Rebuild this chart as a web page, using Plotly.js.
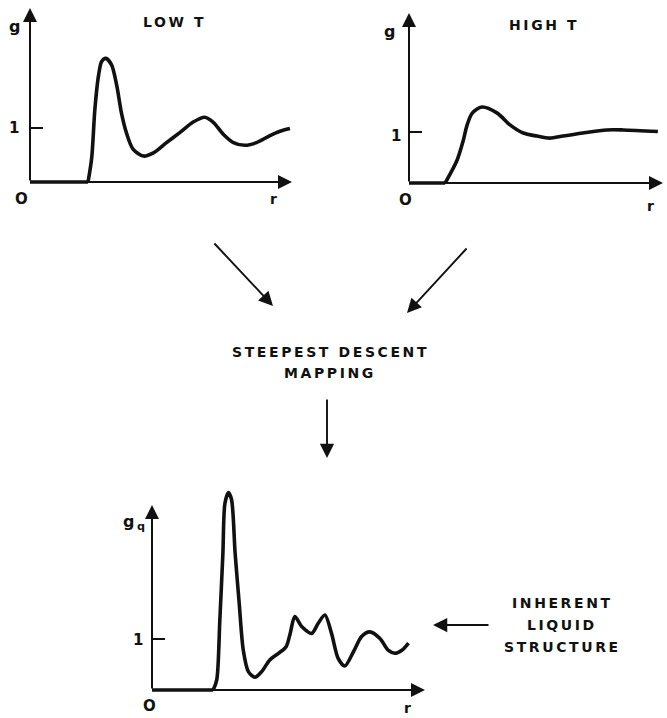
<!DOCTYPE html>
<html>
<head>
<meta charset="utf-8">
<script src="https://cdn.plot.ly/plotly-3.0.1.min.js"></script>
<style>
  html, body { margin: 0; padding: 0; background: #fff; }
  #chart { width: 667px; height: 718px; }
  .annotation-text { letter-spacing: 2.6px; }
</style>
</head>
<body>
<div id="chart"></div>
<script>
// ---- data ----
const lowTitle = 'LOW T';
const highTitle = 'HIGH T';
const lowR = [0, 1.11, 1.18, 1.24, 1.31, 1.37, 1.45, 1.56, 1.66, 1.75, 1.85, 1.97, 2.17, 2.36, 2.61, 2.87, 3.12, 3.34, 3.5, 3.69, 3.89, 4.11, 4.33, 4.59, 4.78, 4.97];
const lowG = [0, 0, 0.45, 1.34, 1.97, 2.23, 2.29, 2.17, 1.78, 1.27, 0.89, 0.61, 0.48, 0.54, 0.73, 0.92, 1.11, 1.2, 1.11, 0.89, 0.73, 0.68, 0.73, 0.86, 0.94, 0.99];
const highR = [0, 0.71, 0.94, 1.06, 1.14, 1.24, 1.43, 1.73, 1.98, 2.24, 2.51, 2.76, 3.02, 3.41, 3.88, 4.2, 4.88];
const highG = [0, 0, 0.44, 0.82, 1.14, 1.37, 1.49, 1.37, 1.14, 0.98, 0.92, 0.88, 0.92, 0.98, 1.04, 1.04, 1.01];
const inhR = [0, 1.20, 1.27, 1.33, 1.39, 1.43, 1.50, 1.56, 1.63, 1.71, 1.79, 1.89, 2.02, 2.15, 2.31, 2.48, 2.63, 2.71, 2.80, 2.94, 3.13, 3.26, 3.39, 3.52, 3.65, 3.78, 3.95, 4.11, 4.27, 4.47, 4.63, 4.76, 4.90, 5.03];
const inhG = [0, 0, 0.2, 1.37, 2.68, 3.66, 3.87, 3.73, 2.68, 1.7, 0.78, 0.36, 0.25, 0.36, 0.59, 0.72, 0.85, 1.11, 1.44, 1.24, 1.11, 1.31, 1.47, 1.11, 0.62, 0.47, 0.75, 1.05, 1.14, 1.01, 0.78, 0.72, 0.78, 0.92];
const yTickValue = 1;
const yTickLabel = '1';
const originLabel = 'O';
const xLabel = 'r';
const yLabels = ['g', 'g', 'g<sub>q</sub>'];
const mappingLines = ['STEEPEST DESCENT', 'MAPPING'];
const inherentLines = ['INHERENT', 'LIQUID', 'STRUCTURE'];

// ---- layout geometry (pixels) ----
const W = 667, H = 718;
const PX = p => p / W;
const PY = p => 1 - p / H;
const panels = [
  {ox: 30,  oy: 182, xu: 52.3, yu: 54, xTip: 292, yTip: 8,   yTop: 8,   r: lowR,  g: lowG,
   lab: {g: [16, 26], one: [15, 128], o: [22, 199], r: [275, 199]}},
  {ox: 409, oy: 183, xu: 51, yu: 51, xTip: 663, yTip: 13,  yTop: 13,  r: highR, g: highG,
   lab: {g: [391, 32], one: [397, 136], o: [406, 200], r: [652, 206]}},
  {ox: 152, oy: 690, xu: 51, yu: 51, xTip: 425, yTip: 505, yTop: 484, r: inhR,  g: inhG,
   lab: {g: [135, 522], one: [139, 640], o: [150, 706], r: [409, 708]}}
];
const pad = 0.15;
const black = '#111';
const font = {family: 'DejaVu Sans, sans-serif', color: black, weight: 'bold'};

const traces = [];
const layout = {
  width: W, height: H,
  margin: {l: 0, r: 0, t: 0, b: 0},
  paper_bgcolor: '#fff', plot_bgcolor: 'rgba(0,0,0,0)',
  showlegend: false,
  annotations: [], shapes: []
};

panels.forEach((p, i) => {
  const n = i === 0 ? '' : String(i + 1);
  const xa = 'xaxis' + n, ya = 'yaxis' + n;
  const xr = 'x' + n, yr = 'y' + n;
  const rMax = (p.xTip - p.ox) / p.xu;
  const gMax = (p.oy - p.yTop) / p.yu;
  const gTip = (p.oy - p.yTip) / p.yu;
  layout[xa] = {
    domain: [PX(p.ox - pad * p.xu), PX(p.xTip + 1)],
    range: [-pad, rMax + 1 / p.xu], anchor: yr,
    showgrid: false, zeroline: false, showline: false, showticklabels: false, ticks: '', fixedrange: true
  };
  layout[ya] = {
    domain: [PY(p.oy + pad * p.yu), PY(p.yTop)],
    range: [-pad, gMax], anchor: xr,
    showgrid: false, zeroline: false, showline: false, showticklabels: false, ticks: '', fixedrange: true
  };
  // flat part along the baseline (straight), then the smooth curve
  traces.push({
    type: 'scatter', mode: 'lines', x: p.r.slice(0, 2), y: p.g.slice(0, 2), xaxis: xr, yaxis: yr,
    line: {color: black, width: 3.4}, hoverinfo: 'skip'
  });
  traces.push({
    type: 'scatter', mode: 'lines', x: p.r.slice(1), y: p.g.slice(1), xaxis: xr, yaxis: yr,
    line: {color: black, width: 3.6, shape: 'spline', smoothing: 0.8},
    hoverinfo: 'skip'
  });
  // axes with arrow heads
  layout.annotations.push({
    xref: xr, yref: yr, axref: xr, ayref: yr, x: rMax, y: 0, ax: 0, ay: 0,
    text: '', showarrow: true, arrowhead: 2, arrowsize: 1.4, arrowwidth: 2, arrowcolor: black, standoff: 0
  });
  layout.annotations.push({
    xref: xr, yref: yr, axref: xr, ayref: yr, x: 0, y: gTip, ax: 0, ay: 0,
    text: '', showarrow: true, arrowhead: 2, arrowsize: 1.4, arrowwidth: 2, arrowcolor: black, standoff: 0
  });
  // tick at g = 1
  layout.shapes.push({
    type: 'line', xref: xr, yref: yr, x0: 0, x1: 13 / p.xu, y0: yTickValue, y1: yTickValue,
    line: {color: black, width: 2}
  });
  const lbl = (txt, pos, size) => layout.annotations.push({
    xref: 'paper', yref: 'paper', x: PX(pos[0]), y: PY(pos[1]), xanchor: 'center', yanchor: 'middle',
    text: txt, showarrow: false, font: Object.assign({size: size}, font)
  });
  lbl(yLabels[i], p.lab.g, 16);
  lbl(yTickLabel, p.lab.one, 15);
  lbl(originLabel, p.lab.o, 15);
  lbl(xLabel, p.lab.r, 14);
});

const text = (txt, x, y, size) => layout.annotations.push({
  xref: 'paper', yref: 'paper', x: PX(x), y: PY(y), xanchor: 'center', yanchor: 'middle',
  text: txt, showarrow: false, align: 'center', font: Object.assign({size: size}, font)
});
text(lowTitle, 174, 22, 14);
text(highTitle, 544, 25, 14);
mappingLines.forEach((t, k) => text(t, 330, 352 + 21 * k, 14));
inherentLines.forEach((t, k) => text(t, 562, 603 + 22 * k, 14));

// flow arrows (head, tail) in pixels
const arrow = (hx, hy, tx, ty) => layout.annotations.push({
  xref: 'paper', yref: 'paper', x: PX(hx), y: PY(hy), ax: tx - hx, ay: ty - hy,
  text: '', showarrow: true, arrowhead: 2, arrowsize: 1.5, arrowwidth: 1.9, arrowcolor: black, standoff: 0
});
arrow(273, 306, 213, 242);
arrow(407, 313, 468, 247);
arrow(327, 458, 327, 398);
arrow(433, 625, 490, 625);

Plotly.newPlot('chart', traces, layout, {staticPlot: true});
</script>
</body>
</html>
